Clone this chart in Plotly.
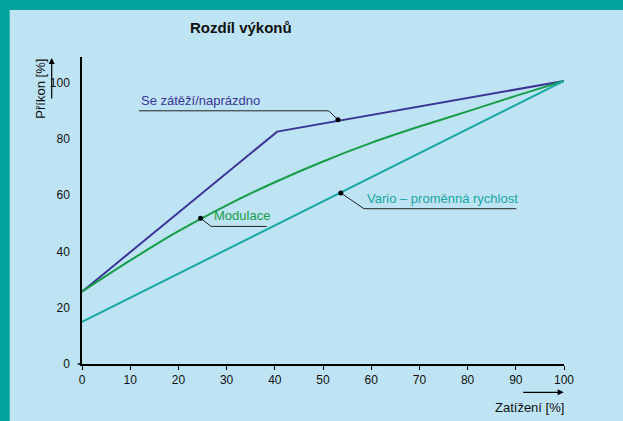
import plotly.graph_objects as go

# ---- data ----
load_pct = [0, 40.5, 100]
onoff_power = [25.7, 82.6, 100.6]

mod_load = [0, 10, 20, 30, 40, 50, 60, 70, 80, 90, 100]
mod_power = [25.7, 36.8, 47.2, 56.4, 64.6, 72.0, 78.6, 84.4, 89.8, 95.3, 100.6]

vario_load = [0, 100]
vario_power = [15.0, 100.6]

x_ticks = [0, 10, 20, 30, 40, 50, 60, 70, 80, 90, 100]
y_ticks = [0, 20, 40, 60, 80, 100]

title_text = "Rozdíl výkonů"
x_title = "Zatížení [%]"
y_title = "Příkon [%]"
label_onoff = "Se zátěží/naprázdno"
label_mod = "Modulace"
label_vario = "Vario – proměnná rychlost"

# leader lines: dot point, corner, underline end (data coords)
onoff_leader_x = [53.1, 51.2, 11.8]
onoff_leader_y = [86.8, 90.0, 90.0]
mod_leader_x = [24.6, 26.8, 38.3]
mod_leader_y = [51.8, 48.9, 48.9]
vario_leader_x = [53.7, 58.5, 90.1]
vario_leader_y = [60.8, 55.2, 55.2]

# ---- style ----
C_BLUE = "#3b3595"
C_GREEN = "#179d48"
C_TEAL = "#17a8a4"
C_BG = "#bee3f2"
C_BORDER = "#00a29b"
FONT = "Liberation Sans, Arial, sans-serif"

W, H = 623, 421
L, R, T, B = 82.3, 564.3, 57.0, 364.3
ytop = (B - T) / 2.816

fig = go.Figure()

fig.add_trace(go.Scatter(x=load_pct, y=onoff_power, mode="lines",
                         line=dict(color=C_BLUE, width=2), hoverinfo="skip"))
fig.add_trace(go.Scatter(x=mod_load, y=mod_power, mode="lines",
                         line=dict(color=C_GREEN, width=2, shape="spline", smoothing=0.8),
                         hoverinfo="skip"))
fig.add_trace(go.Scatter(x=vario_load, y=vario_power, mode="lines",
                         line=dict(color=C_TEAL, width=2), hoverinfo="skip"))

for lx, ly in [(onoff_leader_x, onoff_leader_y), (mod_leader_x, mod_leader_y),
               (vario_leader_x, vario_leader_y)]:
    fig.add_trace(go.Scatter(x=lx, y=ly, mode="lines", line=dict(color="#222222", width=1),
                             hoverinfo="skip"))
    fig.add_trace(go.Scatter(x=[lx[0]], y=[ly[0]], mode="markers",
                             marker=dict(color="black", size=5), hoverinfo="skip"))

def px_x(p):
    return (p - L) / (R - L)

def px_y(p):
    return (B - p) / (B - T)

shapes = [
    # teal frame: left strip and top strip
    dict(type="rect", xref="paper", yref="paper", x0=px_x(-5), x1=px_x(10),
         y0=px_y(H + 5), y1=px_y(-5), fillcolor=C_BORDER, line=dict(width=0), layer="below"),
    dict(type="rect", xref="paper", yref="paper", x0=px_x(-5), x1=px_x(W + 5),
         y0=px_y(10), y1=px_y(-5), fillcolor=C_BORDER, line=dict(width=0), layer="below"),
    # light panel at the right edge
    dict(type="rect", xref="paper", yref="paper", x0=px_x(590), x1=px_x(W + 20),
         y0=px_y(H + 5), y1=px_y(10), fillcolor=C_BG, line=dict(width=0), layer="above"),
    dict(type="line", xref="paper", yref="paper", x0=px_x(78), x1=px_x(L),
         y0=0, y1=0, line=dict(color="black", width=1.5)),
]

annotations = [
    dict(text="<b>" + title_text + "</b>", xref="paper", yref="paper",
         x=px_x(241), y=px_y(27), xanchor="center", yanchor="middle", showarrow=False,
         font=dict(size=15, color="#111111", family=FONT)),
    dict(text=label_onoff, x=onoff_leader_x[2], y=onoff_leader_y[2], xanchor="left",
         yanchor="bottom", yshift=1, showarrow=False,
         font=dict(size=13, color=C_BLUE, family=FONT)),
    dict(text=label_mod, x=mod_leader_x[1] + 0.2, y=mod_leader_y[1], xanchor="left",
         yanchor="bottom", yshift=1, showarrow=False,
         font=dict(size=13, color=C_GREEN, family=FONT)),
    dict(text=label_vario, x=vario_leader_x[1] + 0.2, y=vario_leader_y[1], xanchor="left",
         yanchor="bottom", yshift=1, showarrow=False,
         font=dict(size=13, color=C_TEAL, family=FONT)),
    # axis titles
    dict(text=x_title, xref="paper", yref="paper", x=px_x(566), y=px_y(407.5),
         xanchor="right", yanchor="middle", showarrow=False,
         font=dict(size=13, color="#111111", family=FONT)),
    dict(text=y_title, xref="paper", yref="paper", x=px_x(41), y=px_y(89),
         textangle=-90, xanchor="center", yanchor="middle", showarrow=False,
         font=dict(size=13, color="#111111", family=FONT)),
    # arrows
    dict(text="", xref="paper", yref="paper", x=px_x(564), y=px_y(392.7),
         ax=-42, ay=0, showarrow=True, arrowhead=2, arrowsize=1, arrowwidth=1.2,
         arrowcolor="black"),
    dict(text="", xref="paper", yref="paper", x=px_x(52), y=px_y(58),
         ax=0, ay=42, showarrow=True, arrowhead=2, arrowsize=1, arrowwidth=1.2,
         arrowcolor="black"),
]

fig.update_layout(
    width=W, height=H,
    margin=dict(l=L, r=W - R, t=T, b=H - B, pad=0),
    paper_bgcolor=C_BG, plot_bgcolor=C_BG,
    showlegend=False,
    shapes=shapes, annotations=annotations,
    font=dict(family=FONT, size=12, color="#111111"),
)
fig.update_xaxes(range=[0, 100], tickvals=x_ticks, showgrid=False, zeroline=False,
                 showline=True, linecolor="black", linewidth=1.5,
                 ticks="outside", ticklen=4, tickcolor="black", tickwidth=1,
                 ticklabelstandoff=0, tickfont=dict(size=12, family=FONT, color="#111111"))
fig.update_yaxes(range=[0, ytop], tickvals=y_ticks, showgrid=False, zeroline=False,
                 showline=True, linecolor="black", linewidth=1.5,
                 ticks="", ticklabelstandoff=8,
                 tickfont=dict(size=12, family=FONT, color="#111111"))

fig.write_html(
    "out.html", config={"displayModeBar": False},
    post_script=("document.body.style.margin='0';document.body.style.padding='0';"
                 "document.body.style.overflow='hidden';"
                 "document.documentElement.style.overflow='hidden';"
                 "document.body.style.background='" + C_BG + "';"
                 "document.documentElement.style.background='" + C_BG + "';"))
